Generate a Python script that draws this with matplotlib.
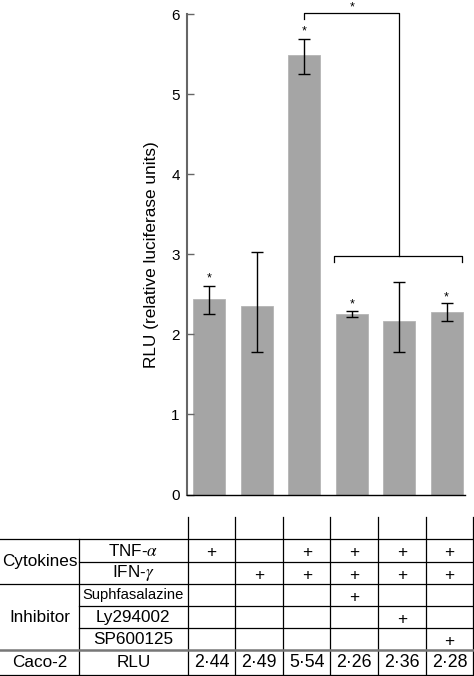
import numpy as np
import matplotlib
matplotlib.use("Agg")
import matplotlib.pyplot as plt

plt.rcParams['font.family'] = ['Liberation Sans', 'DejaVu Sans']
plt.rcParams['mathtext.fontset'] = 'stix'

# bar data
groups = [0, 1, 2, 3, 4, 5]
rlu_mean = [2.44, 2.36, 5.49, 2.26, 2.17, 2.28]
err_top = [2.61, 3.03, 5.69, 2.29, 2.65, 2.39]
err_bottom = [2.25, 1.785, 5.25, 2.22, 1.785, 2.165]

# significance marks
star_groups = [0, 2, 3, 5]
star_y = [2.70, 5.78, 2.38, 2.46]
bracket_top_x = [2, 2, 4, 4]
bracket_top_y = [5.94, 6.02, 6.02, 2.98]
bracket_low_x = [2.63, 2.63, 5.32, 5.32]
bracket_low_y = [2.91, 2.98, 2.98, 2.91]
bracket_star = (3.0, 6.09)

# table below the chart
row_names = ['TNF-$\\alpha$', 'IFN-$\\gamma$', 'Suphfasalazine', 'Ly294002', 'SP600125']
tnf = [1, 0, 1, 1, 1, 1]
ifn = [0, 1, 1, 1, 1, 1]
sulf = [0, 0, 0, 1, 0, 0]
ly = [0, 0, 0, 0, 1, 0]
sp = [0, 0, 0, 0, 0, 1]
rlu_text = ['2·44', '2·49', '5·54', '2·26', '2·36', '2·28']

W, H = 474, 676
fig = plt.figure(figsize=(W / 100, H / 100), dpi=100)

# ---- bar chart
ax = fig.add_axes([186.7 / W, 1 - 494.5 / H, (465 - 186.7) / W, (494.5 - 14.3) / H])
lo = np.array(rlu_mean) - np.array(err_bottom)
hi = np.array(err_top) - np.array(rlu_mean)
ax.bar(groups, rlu_mean, width=0.675, color='#a5a5a5', edgecolor='#b5b5b5', linewidth=0.6)
ax.errorbar(groups, rlu_mean, yerr=[lo, hi], fmt='none', ecolor='black',
            elinewidth=1.0, capsize=4, capthick=1.0)
for g, y in zip(star_groups, star_y):
    ax.text(g, y, '*', ha='center', va='center', fontsize=9)
ax.plot(bracket_top_x, bracket_top_y, color='black', lw=0.9, clip_on=False)
ax.plot(bracket_low_x, bracket_low_y, color='black', lw=0.9, clip_on=False)
ax.text(bracket_star[0], bracket_star[1], '*', ha='center', va='center', fontsize=9)

ax.set_xlim(-0.48, 5.39)
ax.set_ylim(0, 6)
ax.set_yticks([0, 1, 2, 3, 4, 5, 6])
ax.set_xticks([])
ax.tick_params(axis='y', direction='in', length=5, width=1, color='#666666',
               labelsize=11, pad=5)
ax.spines['top'].set_visible(False)
ax.spines['right'].set_visible(False)
ax.spines['left'].set_color('#666666')
ax.spines['left'].set_linewidth(1.5)
ax.spines['bottom'].set_color('black')
ax.spines['bottom'].set_linewidth(1.0)
ax.set_ylabel('RLU (relative luciferase units)', fontsize=12.4, labelpad=9)

# ---- table (coordinates in pixels of the figure)
tx = fig.add_axes([0, 0, 1, 1 - 505 / H])
tx.set_xlim(0, W)
tx.set_ylim(H, 505)
tx.axis('off')

col_edges = np.linspace(187.7, 473.3, 7)
col_mid = (col_edges[:-1] + col_edges[1:]) / 2
row_edges = [539.3, 561.7, 584.3, 606, 628.3, 650, 675]
row_mid = [(a + b) / 2 for a, b in zip(row_edges[:-1], row_edges[1:])]
lc = 'black'
lw = 0.9

for x in col_edges:
    tx.plot([x, x], [517, 675], color=lc, lw=lw)
tx.plot([79, 79], [539.3, 675], color=lc, lw=lw)
for y in [539.3, 584.3, 675]:
    tx.plot([0, 473.3], [y, y], color=lc, lw=lw)
for y in [561.7, 606, 628.3]:
    tx.plot([79, 473.3], [y, y], color=lc, lw=lw)
tx.plot([0, 473.3], [650, 650], color='#777777', lw=1.8)

tx.text(40, (539.3 + 584.3) / 2, 'Cytokines', ha='center', va='center', fontsize=12.3)
tx.text(40, (584.3 + 650) / 2, 'Inhibitor', ha='center', va='center', fontsize=12.3)
tx.text(40, row_mid[5], 'Caco-2', ha='center', va='center', fontsize=12.3)
tx.text(133.3, row_mid[5], 'RLU', ha='center', va='center', fontsize=12.3)
for i, name in enumerate(row_names):
    fs = 10.6 if name == 'Suphfasalazine' else 12.3
    tx.text(133.3, row_mid[i], name, ha='center', va='center', fontsize=fs)

marks = [tnf, ifn, sulf, ly, sp]
for i, row in enumerate(marks):
    for j, m in enumerate(row):
        if m:
            tx.text(col_mid[j], row_mid[i] + 2, '+', ha='center', va='center', fontsize=12.3)
for j, t in enumerate(rlu_text):
    tx.text(col_mid[j], row_mid[5], t, ha='center', va='center', fontsize=12.8)

fig.savefig('out.png', dpi=100)
